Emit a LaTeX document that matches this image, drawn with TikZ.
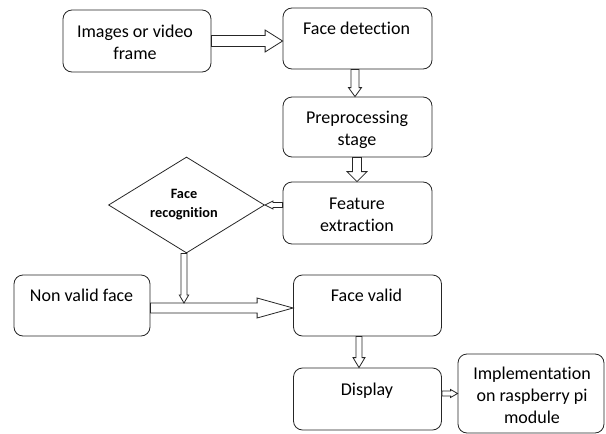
\documentclass[tikz,border=0pt]{standalone}
\usepackage{fontspec}
\setmainfont{Carlito}[Ligatures=NoCommon]
\usetikzlibrary{shapes.geometric,calc}
% horizontal block arrow to the right: from, to, shaft half, head half, head length
\newcommand{\harrowR}[5]{\draw[blkarrow] let \p1=(#1), \p2=(#2) in
  (\x1,\y1+#3) -- (\x2-#5,\y1+#3) -- (\x2-#5,\y1+#4) -- (\x2,\y1) --
  (\x2-#5,\y1-#4) -- (\x2-#5,\y1-#3) -- (\x1,\y1-#3) -- cycle;}
% horizontal block arrow to the left
\newcommand{\harrowL}[5]{\draw[blkarrow] let \p1=(#1), \p2=(#2) in
  (\x1,\y1+#3) -- (\x2+#5,\y1+#3) -- (\x2+#5,\y1+#4) -- (\x2,\y1) --
  (\x2+#5,\y1-#4) -- (\x2+#5,\y1-#3) -- (\x1,\y1-#3) -- cycle;}
% vertical block arrow downward
\newcommand{\varrowD}[5]{\draw[blkarrow] let \p1=(#1), \p2=(#2) in
  (\x1-#3,\y1) -- (\x1-#3,\y2+#5) -- (\x1-#4,\y2+#5) -- (\x1,\y2) --
  (\x1+#4,\y2+#5) -- (\x1+#3,\y2+#5) -- (\x1+#3,\y1) -- cycle;}
\begin{document}
\begin{tikzpicture}[x=1pt,y=-1pt,
  box/.style={draw=black!85, line width=0.8pt, rounded corners=9pt, inner sep=0pt},
  dia/.style={draw=black!85, line width=0.8pt, diamond, inner sep=0pt},
  blkarrow/.style={draw=black!85, fill=white, line width=0.8pt, line join=miter},
  txt/.style={font=\fontsize{18}{22}\selectfont, align=center, inner sep=0pt},
  stxt/.style={font=\fontsize{14.3}{19}\selectfont\bfseries, align=center, inner sep=0pt}]
\useasboundingbox (0,0) rectangle (606,434);

% boxes
\node[box, minimum width=148pt, minimum height=62pt] (img) at (137,41) {};
\node[box, minimum width=149pt, minimum height=61pt] (fd) at (357.5,38.5) {};
\node[box, minimum width=149pt, minimum height=60pt] (pre) at (357.5,127) {};
\node[box, minimum width=149pt, minimum height=62pt] (fe) at (357.5,213) {};
\node[dia, minimum width=156pt, minimum height=96pt] (fr) at (186.5,205) {};
\node[box, minimum width=136pt, minimum height=61pt] (nv) at (82,305.5) {};
\node[box, minimum width=148pt, minimum height=61pt] (fv) at (367.5,305.5) {};
\node[box, minimum width=148pt, minimum height=62pt] (disp) at (367.5,399) {};
\node[box, minimum width=146pt, minimum height=79pt] (impl) at (531,393.5) {};

% texts
\node[txt] (timg) at (135,42.2) {Images or video\\frame};
\node[txt] (tfd) at (356.6,28.7) {Face detection};
\node[txt] (tpre) at (357,129.5) {Preprocessing\\stage};
\node[txt] (tfe) at (357,215.2) {Feature\\extraction};
\node[stxt] (tfr) at (184,204.4) {Face\\recognition};
\node[txt] (tnv) at (81.6,295.7) {Non valid face};
\node[txt] (tfv) at (366.5,295.7) {Face valid};
\node[txt] (tdisp) at (367,390.5) {Display};
\node[txt] (timpl) at (532,395.2) {Implementation\\on raspberry pi\\module};

% junction where the recognition arrow meets the big arrow
\coordinate (j) at (184,303);

% connectors
\harrowR{img.east}{fd.west}{5.5pt}{11pt}{17.5pt}
\varrowD{[xshift=-2.5pt]fd.south}{pre.north}{4pt}{6.5pt}{9pt}
\varrowD{[xshift=-0.5pt]pre.south}{fe.north}{4.5pt}{10pt}{10pt}
\harrowL{fe.west |- fr.east}{fr.east}{2.5pt}{4pt}{8pt}
\harrowR{[yshift=-2.5pt]nv.east}{fv.west}{5pt}{10pt}{36pt}
\varrowD{[xshift=-2.5pt]fr.south}{j}{3pt}{4.7pt}{8pt}
\varrowD{[xshift=-8.5pt]fv.south}{disp.north}{3pt}{6pt}{10pt}
\harrowR{disp.east |- impl.west}{impl.west}{2.5pt}{4pt}{7pt}
\end{tikzpicture}
\end{document}
